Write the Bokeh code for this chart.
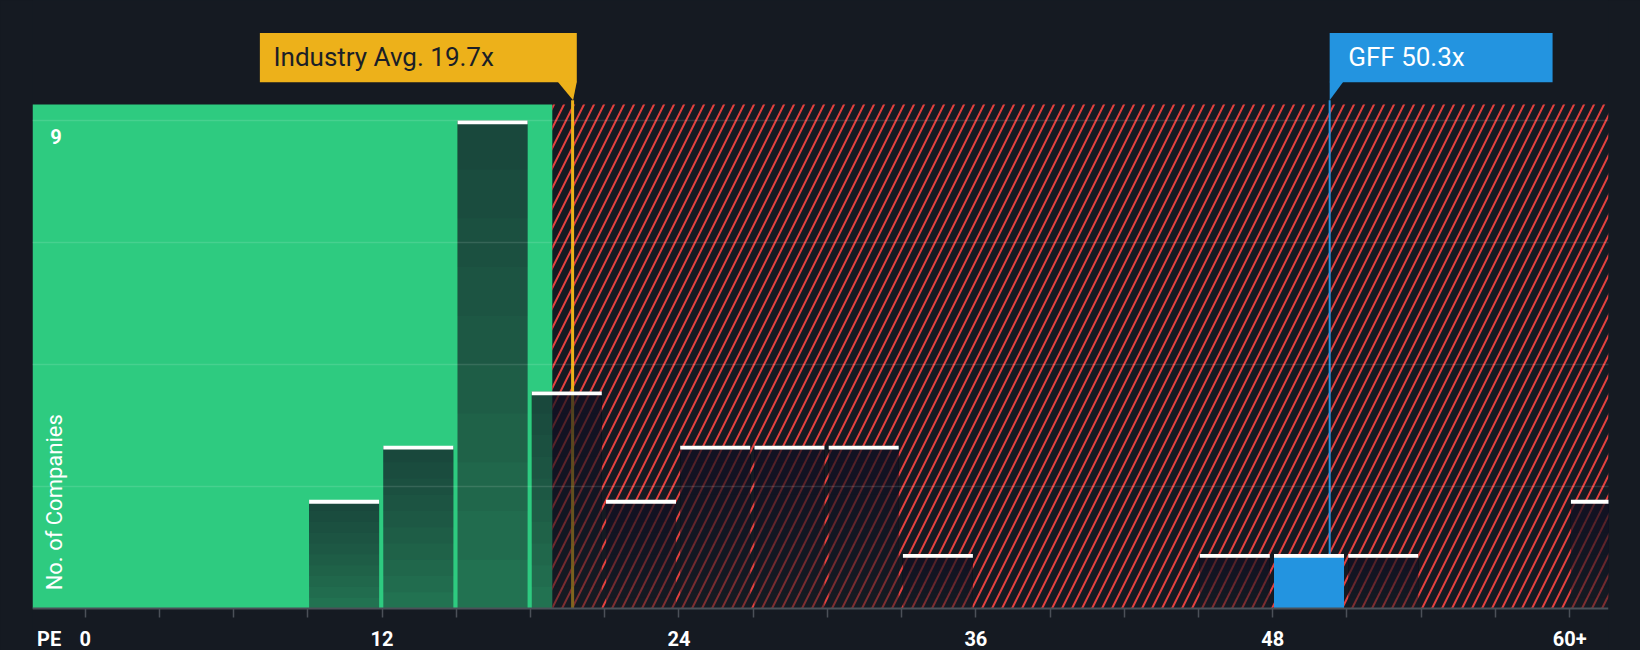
import math
from bokeh.plotting import figure
from bokeh.models import Range1d, FixedTicker, GlobalInlineStyleSheet
from bokeh.core.properties import value
from bokeh.embed import file_html
from bokeh.resources import INLINE

# ---------------- data ----------------
bin_starts = [0, 3, 6, 9, 12, 15, 18, 21, 24, 27, 30, 33, 36, 39, 42, 45, 48, 51, 54, 57, 60]
counts     = [0, 0, 0, 2, 3, 9, 4, 2, 3, 3, 3, 1, 0, 0, 0, 1, 1, 1, 0, 0, 2]
bin_width = 3
industry_avg = 19.7
industry_label = "Industry Avg. 19.7x"
company_pe = 50.3
company_label = "GFF 50.3x"
fair_limit = 18.88          # end of the green zone
x_ticks = [0, 12, 24, 36, 48, 60]
x_tick_labels = ["0", "12", "24", "36", "48", "60+"]
x_minor = list(range(0, 63, 3))
y_grid = [2.25, 4.5, 6.75, 9]
y_top_label = 9
y_axis_label = "No. of Companies"
x_axis_label = "PE"
x_axis_label_pos = -1.46

# ---------------- style ----------------
BG = "#151a22"
GREEN = "#2ecb80"
RED = "#e2403e"
YELLOW = "#edb11a"
BLUE = "#2394e0"
AXIS = "#4b5058"
FONT = "Roboto"

W, H = 1640, 650
X0, X1 = -2.13, 61.57
Y0, Y_END = -0.775, 11.22
REGION_TOP = 9.30
BOX_B, BOX_T, BOX_MID, TIP = 9.71, 10.62, 10.18, 9.38

p = figure(width=W, height=H, x_range=Range1d(X0, X1), y_range=Range1d(Y0, Y_END),
           output_backend="svg", toolbar_location=None,
           min_border_left=32, min_border_right=32, min_border_top=0, min_border_bottom=0,
           background_fill_color=BG, border_fill_color=BG, outline_line_color=None)
p.stylesheets = [GlobalInlineStyleSheet(css="body{background:%s;}" % BG)]

# zones
p.quad(left=[X0], right=[fair_limit], bottom=[0], top=[REGION_TOP],
       fill_color=GREEN, line_color=None)
p.quad(left=[fair_limit], right=[X1], bottom=[0], top=[REGION_TOP],
       fill_color=BG, fill_alpha=0, line_color=None,
       hatch_pattern="/", hatch_color=RED, hatch_weight=2, hatch_scale=20)

# industry average line
p.segment(x0=[industry_avg], y0=[0], x1=[industry_avg], y1=[TIP],
          line_color=YELLOW, line_width=3)

# company bin index
ci = int(company_pe // bin_width)

# bars: base layer + nested overlays -> top-darker gradient
base_l = [s + 0.05 for i, (s, c) in enumerate(zip(bin_starts, counts)) if c > 0 and i != ci]
base_r = [s + 2.88 for i, (s, c) in enumerate(zip(bin_starts, counts)) if c > 0 and i != ci]
base_t = [c for i, c in enumerate(counts) if c > 0 and i != ci]
p.quad(left=base_l, right=base_r, bottom=0, top=base_t, fill_color=BG, fill_alpha=0.5, line_color=None)
N = 10
L, R, B, T = [], [], [], []
for l, r, t in zip(base_l, base_r, base_t):
    for k in range(1, N):
        L.append(l); R.append(r); B.append(t * k / N); T.append(t)
p.quad(left=L, right=R, bottom=B, top=T, fill_color=BG, fill_alpha=0.055, line_color=None)

# company bar
p.quad(left=[bin_starts[ci] + 0.05], right=[bin_starts[ci] + 2.88], bottom=[0],
       top=[counts[ci]], fill_color=BLUE, line_color=None)

# company line
p.segment(x0=[company_pe], y0=[counts[ci]], x1=[company_pe], y1=[TIP],
          line_color=BLUE, line_width=2)

# white caps
cl = [s + 0.05 for s, c in zip(bin_starts, counts) if c > 0]
cr = [s + 2.88 for s, c in zip(bin_starts, counts) if c > 0]
ct = [c for c in counts if c > 0]
p.quad(left=cl, right=cr, top=[c + 0.005 for c in ct], bottom=[c - 0.065 for c in ct],
       fill_color="#ffffff", line_color=None)

# callout boxes
p.quad(left=[7.06], right=[19.87], bottom=[BOX_B], top=[BOX_T], fill_color=YELLOW, line_color=None)
p.patch(x=[19.1, 19.87, 19.72], y=[BOX_B + 0.01, BOX_B + 0.01, TIP], fill_color=YELLOW, line_color=None)
p.text(x=[7.61], y=[BOX_MID], text=[industry_label], text_font=value(FONT),
       text_font_size="26px", text_color="#1b1f27", text_baseline="middle", text_align="left")

p.quad(left=[company_pe], right=[59.31], bottom=[BOX_B], top=[BOX_T], fill_color=BLUE, line_color=None)
p.patch(x=[company_pe, company_pe + 0.55, company_pe], y=[BOX_B + 0.01, BOX_B + 0.01, TIP],
        fill_color=BLUE, line_color=None)
p.text(x=[51.05], y=[BOX_MID], text=[company_label], text_font=value(FONT),
       text_font_size="26px", text_color="#ffffff", text_baseline="middle", text_align="left")

# labels inside plot
p.text(x=[-1.18], y=[8.71], text=[str(y_top_label)], text_font=value(FONT), text_font_size="20px",
       text_font_style="bold", text_color="#ffffff", text_align="center", text_baseline="middle")
p.text(x=[-1.24], y=[1.96], text=[y_axis_label], angle=math.pi / 2, text_font=value(FONT),
       text_font_size="22px", text_color="#ffffff", text_align="center", text_baseline="middle")

# axes / grid
p.yaxis.visible = False
p.xgrid.visible = False
p.ygrid.ticker = FixedTicker(ticks=y_grid)
p.ygrid.grid_line_color = "#ffffff"
p.ygrid.grid_line_alpha = 0.12
p.ygrid.grid_line_width = 1.5
p.ygrid.level = "guide"

ax = p.xaxis[0]
ax.fixed_location = 0
ax.ticker = FixedTicker(ticks=[x_axis_label_pos] + x_ticks, minor_ticks=x_minor)
ax.major_label_overrides = {t: l for t, l in zip([x_axis_label_pos] + x_ticks,
                                                 [x_axis_label] + x_tick_labels)}
ax.axis_line_color = AXIS
ax.axis_line_width = 2
ax.major_tick_line_color = None
ax.major_tick_out = 0
ax.major_tick_in = 0
ax.minor_tick_line_color = AXIS
ax.minor_tick_line_width = 1.5
ax.minor_tick_out = 9
ax.minor_tick_in = 0
ax.major_label_standoff = 9
ax.major_label_text_font = FONT
ax.major_label_text_font_size = "20px"
ax.major_label_text_font_style = "bold"
ax.major_label_text_color = "#ffffff"

open("out.html", "w").write(file_html(p, INLINE))
